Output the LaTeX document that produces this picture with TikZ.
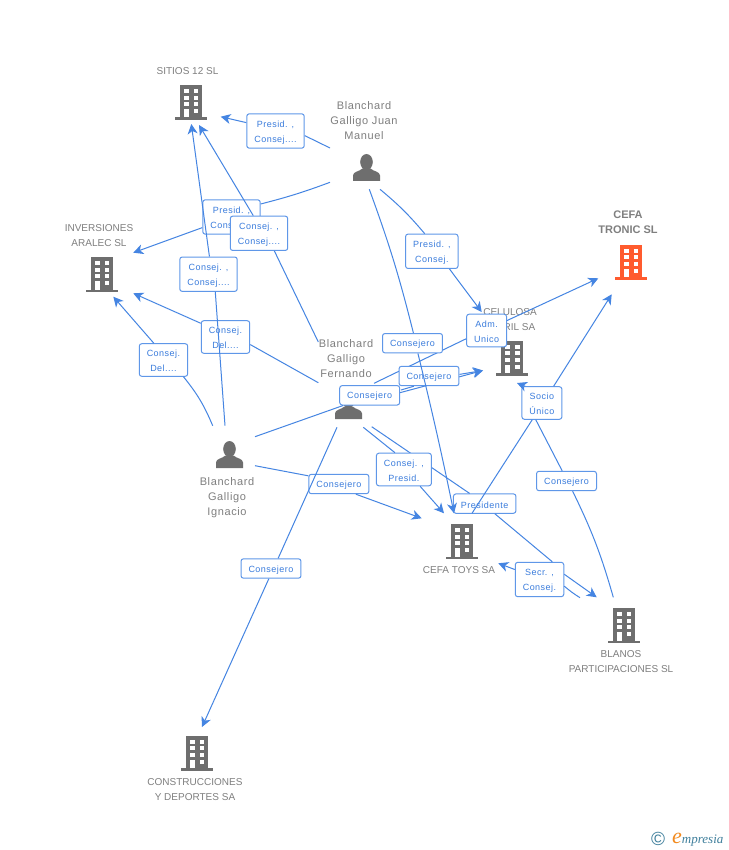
\documentclass[tikz,border=0pt]{standalone}
\usepackage{fontspec}
\setmainfont{Liberation Sans}
\newfontfamily\lblfont[LetterSpace=5.5]{Liberation Sans}
\newfontfamily\logofont{Liberation Serif}
\usetikzlibrary{arrows.meta}
\definecolor{linkblue}{HTML}{4585E2}
\definecolor{boxblue}{HTML}{5F97E8}
\definecolor{textblue}{HTML}{3A7CDC}
\definecolor{namegray}{HTML}{7F7F7F}
\definecolor{icongray}{HTML}{6E6E6E}
\definecolor{iconorange}{HTML}{FF5B2E}
\definecolor{logoteal}{HTML}{3F7F9C}
\definecolor{logoorange}{HTML}{F28A1E}
\tikzset{
  link/.style={draw=linkblue, line width=1pt},
  arrowlink/.style={link, -{Stealth[length=10pt,width=10pt,inset=3pt]}},
  relbox/.style={draw=boxblue, line width=1pt, rounded corners=2.5pt, fill=white, text=textblue,
    font=\lblfont\fontsize{9}{15}\selectfont, align=center, inner xsep=7.5pt, inner ysep=4.25pt, minimum height=19.4pt,
    text height=9pt},
  tallbox/.style={relbox, text height=24pt},
  company/.style={text=namegray, font=\fontsize{10}{15}\selectfont, align=center, inner sep=0pt},
  person/.style={text=namegray, font=\lblfont\fontsize{11}{15}\selectfont, align=center, inner sep=0pt},
  building/.pic={
    \fill[pic actions] (-11,-17.5) rectangle (11,15);
    \fill[pic actions] (-16,15) rectangle (16,17.5);
    \foreach \wy in {-13.5,-6.8,-0.2} {
      \fill[white] (-7,\wy) rectangle (-2.5,\wy+4);
      \fill[white] (2.7,\wy) rectangle (7.3,\wy+4);
    }
    \fill[white] (-7,6.5) rectangle (-2.5,15);
    \fill[white] (2.7,6.5) rectangle (7.3,10.5);
  },
  figure/.pic={
    \fill[icongray] (0,-5.5) ellipse (6.3 and 8);
    \fill[icongray] (-13.5,13.5) -- (-13.5,8) .. controls (-13.5,4) and (-7,4) .. (-4,1)
      -- (4,1) .. controls (7,4) and (13.5,4) .. (13.5,8) -- (13.5,13.5) -- cycle;
  }
}
\begin{document}
\begin{tikzpicture}[x=1pt,y=-1pt]
\useasboundingbox (0,0) rectangle (728,850);
\fill[white] (0,0) rectangle (728,850);

\node[company] (sitios) at (187.5,71.5) {SITIOS 12 SL};
\node[company] (inversiones) at (99,236) {INVERSIONES\\ARALEC SL};
\node[company] (celulosa) at (510,320) {CELULOSA\\FABRIL SA};
\node[company, font=\bfseries\fontsize{11}{15}\selectfont] (tronic) at (628,222.5) {CEFA\\TRONIC SL};
\node[company] (toys) at (459,570.5) {CEFA TOYS SA};
\node[company] (blanos) at (621,662) {BLANOS\\PARTICIPACIONES SL};
\node[company] (construcciones) at (195,790) {CONSTRUCCIONES\\Y DEPORTES SA};
\node[person] (juan) at (364,121) {Blanchard\\Galligo Juan\\Manuel};
\node[person] (fernando) at (346,359) {Blanchard\\Galligo\\Fernando};
\node[person] (ignacio) at (227,498) {Blanchard\\Galligo\\Ignacio};

\pic[fill=icongray] at (191,102.5) {building};
\pic[fill=icongray] at (102,274.5) {building};
\pic[fill=icongray] at (512.3,358) {building};
\pic[fill=iconorange] at (631,262) {building};
\pic[fill=icongray] at (462,541.5) {building};
\pic[fill=icongray] at (624,625.5) {building};
\pic[fill=icongray] at (197,753) {building};
\pic at (366.5,167.5) {figure};
\pic at (229.5,454.5) {figure};
\pic at (348.5,405.5) {figure};

\coordinate (juan1) at (330,148);
\coordinate (juan2) at (330,182.3);
\coordinate (juan3) at (369.3,189.3);
\coordinate (juan4) at (380,189.3);
\coordinate (fer1) at (318.3,342);
\coordinate (fer2) at (318.3,382.7);
\coordinate (fer3) at (374,383.3);
\coordinate (fer4) at (401,390);
\coordinate (fer5) at (337,427.3);
\coordinate (fer6) at (363.3,427.3);
\coordinate (fer7) at (371.7,426.7);
\coordinate (ign1) at (225,425.7);
\coordinate (ign2) at (212.7,425.7);
\coordinate (ign3) at (255,436.7);
\coordinate (ign4) at (255,465.7);
\coordinate (toys1) at (472,513.3);
\coordinate (blanos1) at (613.3,597.3);
\coordinate (blanos2) at (580,597.7);
\coordinate (tipsitiosa) at (220.7,116.7);
\coordinate (tipsitiosb) at (199,125);
\coordinate (tipsitiosc) at (191.3,124);
\coordinate (tipinva) at (133.3,252.7);
\coordinate (tipinvb) at (133.3,293.3);
\coordinate (tipinvc) at (113.3,296.7);
\coordinate (tipcela) at (481.7,312);
\coordinate (tipcelb) at (483,370.5);
\coordinate (tipcelc) at (517,383);
\coordinate (tiptrona) at (598.3,278.3);
\coordinate (tiptronb) at (611.7,294.3);
\coordinate (tiptoysa) at (454,513.3);
\coordinate (tiptoysb) at (444,513.3);
\coordinate (tiptoysc) at (421.7,518.3);
\coordinate (tiptoysd) at (498.3,563.3);
\coordinate (tipblanos) at (596.7,597.3);
\coordinate (tipcons) at (202,727);

\node[tallbox] (presa) at (275.5,131) {Presid. ,\\Consej....};
\draw[link] (juan1) -- (presa.-9.5);
\draw[arrowlink] (presa.164) -- (tipsitiosa);

\node[tallbox] (presb) at (231.5,217) {Presid. ,\\Consej....};
\draw[link] (juan2) to[bend left=3] (presb.24.5);
\draw[arrowlink] (presb.200) -- (tipinva);

\node[tallbox] (dela) at (225.5,337) {Consej.\\Del....};
\draw[link] (fer2) -- (dela.-17.4);
\draw[arrowlink] (dela.151) -- (tipinvb);

\node[tallbox] (delb) at (163.5,360) {Consej.\\Del....};
\draw[link] (ign2) to[bend right=8] (delb.-40);
\draw[arrowlink] (delb.120) -- (tipinvc);

\node[tallbox] (consa) at (259,233.3) {Consej. ,\\Consej....};
\draw[link] (fer1) -- (consa.-49);
\draw[arrowlink] (consa.108) -- (tipsitiosb);

\node[tallbox] (consb) at (208.5,274.2) {Consej. ,\\Consej....};
\draw[link] (ign1) -- (consb.-69);
\draw[arrowlink] (consb.87) -- (tipsitiosc);

\node[tallbox] (presc) at (431.8,251.3) {Presid. ,\\Consej.};
\draw[link] (juan4) to[bend left=5] (presc.112);
\draw[arrowlink] (presc.-45) -- (tipcela);

\node[tallbox] (adm) at (486.6,330.5) {Adm.\\Unico};
\draw[link] (fer3) -- (adm.202.7);
\draw[arrowlink] (adm.26.8) -- (tiptrona);

\node[relbox] (conc) at (369.7,395.3) {Consejero};
\draw[link] (ign3) -- (conc.201);
\draw[arrowlink] (conc.5.5) -- (tipcelb);

\node[relbox] (cond) at (429,376) {Consejero};
\draw[link] (fer4) -- (cond.214);
\draw[arrowlink] (cond.3.7) -- (tipcelb);

\node[relbox] (pres) at (484.7,503.6) {Presidente};
\draw[link] (fer7) -- (pres.146.8);

\node[tallbox] (consd) at (403.9,469.5) {Consej. ,\\Presid.};
\draw[link] (fer6) -- (consd.118);
\draw[arrowlink] (consd.-46.7) -- (tiptoysb);

\node[relbox] (cone) at (338.9,484) {Consejero};
\draw[link] (ign4) -- (cone.165.7);
\draw[arrowlink] (cone.-31.5) -- (tiptoysc);

\node[relbox] (conf) at (271,568.5) {Consejero};
\draw[link] (fer5) -- (conf.55);
\draw[arrowlink] (conf.-102) -- (tipcons);

\node[relbox] (cong) at (566.5,481) {Consejero};
\node[tallbox] (socio) at (541.9,403) {Socio\\Único};
\draw[link] (blanos1) to[bend right=5] (cong.-59);
\draw[link] (cong.113) -- (socio.250.5);
\draw[arrowlink] (socio.135) -- (tipcelc);
\draw[link] (toys1) -- (socio.240);
\draw[arrowlink] (socio.55) -- (tiptronb);

\node[tallbox] (secr) at (539.5,579.5) {Secr. ,\\Consej.};
\draw[link] (pres.-45.6) -- (secr.54.8);
\draw[arrowlink] (secr.12.7) -- (tipblanos);
\draw[link] (blanos2) to[bend left=4] (secr.-15.6);
\draw[arrowlink] (secr.158.8) -- (tiptoysd);

\node[relbox] (conh) at (412.5,343.2) {Consejero};
\draw[link] (juan3) to[bend left=3] (conh.85);
\draw[arrowlink] (conh.-62) to[bend left=1] (tiptoysa);

\node[text=logoteal, font=\fontsize{19}{19}\selectfont, inner sep=0pt] (copyr) at (658,839) {\textcopyright};
\node[text=logoteal, font=\logofont\itshape\fontsize{13}{13}\selectfont, inner sep=0pt, anchor=base west] (logo) at (672,843)
  {\textcolor{logoorange}{\fontsize{22}{22}\selectfont e}mpresia};
\end{tikzpicture}
\end{document}
